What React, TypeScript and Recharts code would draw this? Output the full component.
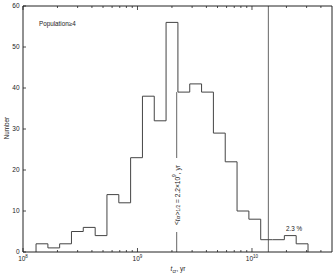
import { LineChart, Line, XAxis, YAxis, ReferenceLine } from "recharts";

// histogram of t_cr (log bins)
const binEdges = [
  1.3e8, 1.65e8, 2.09e8, 2.65e8, 3.36e8, 4.27e8, 5.41e8, 6.87e8, 8.71e8,
  1.105e9, 1.401e9, 1.777e9, 2.255e9, 2.86e9, 3.628e9, 4.603e9, 5.839e9,
  7.407e9, 9.396e9, 1.192e10, 1.512e10, 1.918e10, 2.433e10, 3.087e10,
];
const counts = [2, 1, 2, 5, 6, 4, 14, 12, 23, 38, 32, 56, 39, 41, 39, 29, 22, 10, 8, 3, 3, 4, 2];

const xTicks = [
  1e8, 2e8, 3e8, 4e8, 5e8, 6e8, 7e8, 8e8, 9e8,
  1e9, 2e9, 3e9, 4e9, 5e9, 6e9, 7e9, 8e9, 9e9,
  1e10, 2e10, 3e10, 4e10,
];
const yTicks = [0, 10, 20, 30, 40, 50, 60];

const medianValue = 2.2e9;
const medianTop = 39;
const cutValue = 1.39e10;

const points = [
  { x: binEdges[0], y: 0 },
  ...binEdges.map((e, i) => ({ x: e, y: i < counts.length ? counts[i] : 0 })),
];

const font = "'Liberation Sans', Arial, sans-serif";
const ink = "#222";

const isMajor = (v: number) => Math.abs(Math.log10(v) - Math.round(Math.log10(v))) < 1e-6;

function BottomTick({ x, y, payload }: any) {
  const v = payload.value;
  const major = isMajor(v);
  return (
    <g>
      <line x1={x} y1={y} x2={x} y2={y - (major ? 4 : 2)} stroke={ink} strokeWidth={0.8} />
      {major && (
        <text x={x} y={y + 8.5} textAnchor="middle" fontSize={6.5} fontFamily={font} fill={ink}>
          10
          <tspan dy={-2.6} fontSize={4.5}>
            {Math.round(Math.log10(v))}
          </tspan>
        </text>
      )}
    </g>
  );
}

function TopTick({ x, y, payload }: any) {
  const major = isMajor(payload.value);
  return <line x1={x} y1={y} x2={x} y2={y + (major ? 4 : 2)} stroke={ink} strokeWidth={0.8} />;
}

function LeftTick({ x, y, payload }: any) {
  return (
    <g>
      <line x1={x} y1={y} x2={x + 3} y2={y} stroke={ink} strokeWidth={0.8} />
      <text x={x - 3.5} y={y + 2.2} textAnchor="end" fontSize={6.5} fontFamily={font} fill={ink}>
        {payload.value}
      </text>
    </g>
  );
}

function RightTick({ x, y }: any) {
  return <line x1={x} y1={y} x2={x - 3} y2={y} stroke={ink} strokeWidth={0.8} />;
}

function MedianLabel({ viewBox }: any) {
  const cx = viewBox.x;
  const bottom = viewBox.y + viewBox.height;
  const cy = bottom - 57;
  return (
    <g>
      <rect x={cx - 5} y={cy - 37} width={10} height={74} fill="#fff" />
      <text
        x={cx}
        y={cy}
        transform={`rotate(-90 ${cx} ${cy})`}
        textAnchor="middle"
        dominantBaseline="central"
        fontSize={6.6}
        fontFamily={font}
        fill={ink}
      >
        {"<"}
        <tspan fontStyle="italic">t</tspan>
        <tspan dy={1.5} fontSize={4.8}>cr</tspan>
        <tspan dy={-1.5}>{">"}</tspan>
        <tspan dy={1.5} fontSize={4.8}>1/2</tspan>
        <tspan dy={-1.5}>{" = 2.2×10"}</tspan>
        <tspan dy={-2.4} fontSize={4.8}>9</tspan>
        <tspan dy={2.4}>{", yr"}</tspan>
      </text>
    </g>
  );
}

export default function App() {
  return (
    <div style={{ position: "absolute", left: 0, top: 0, background: "#fff" }}>
      <LineChart width={336} height={277} data={points} margin={{ top: 0, right: 0, bottom: 0, left: 0 }}>
        <XAxis
          xAxisId="bottom"
          dataKey="x"
          type="number"
          scale="log"
          domain={[1e8, 5e10]}
          allowDataOverflow
          ticks={xTicks}
          interval={0}
          tickLine={false}
          tickSize={0}
          tickMargin={0}
          tick={<BottomTick />}
          axisLine={{ stroke: ink }}
          height={25}
        />
        <XAxis
          xAxisId="top"
          orientation="top"
          dataKey="x"
          type="number"
          scale="log"
          domain={[1e8, 5e10]}
          allowDataOverflow
          ticks={xTicks}
          interval={0}
          tickLine={false}
          tickSize={0}
          tickMargin={0}
          tick={<TopTick />}
          axisLine={{ stroke: ink }}
          height={6}
        />
        <YAxis
          yAxisId="left"
          type="number"
          domain={[0, 60]}
          ticks={yTicks}
          interval={0}
          tickLine={false}
          tickSize={0}
          tickMargin={0}
          tick={<LeftTick />}
          axisLine={{ stroke: ink }}
          width={23}
        />
        <YAxis
          yAxisId="right"
          orientation="right"
          type="number"
          domain={[0, 60]}
          ticks={yTicks}
          interval={0}
          tickLine={false}
          tickSize={0}
          tickMargin={0}
          tick={<RightTick />}
          axisLine={{ stroke: ink }}
          width={4}
        />
        <ReferenceLine
          xAxisId="bottom"
          yAxisId="left"
          x={cutValue}
          stroke="#666"
          strokeWidth={1}
        />
        <ReferenceLine
          xAxisId="bottom"
          yAxisId="left"
          segment={[
            { x: medianValue, y: 0 },
            { x: medianValue, y: medianTop },
          ]}
          stroke="#666"
          strokeWidth={1}
          label={{ content: MedianLabel }}
        />
        <Line
          xAxisId="bottom"
          yAxisId="left"
          dataKey="y"
          type="stepAfter"
          stroke="#444"
          strokeWidth={1}
          dot={false}
          isAnimationActive={false}
        />
        <text x={39} y={26} fontSize={6.3} fontFamily={font} fill={ink}>
          Population≥4
        </text>
        <text x={294} y={231} textAnchor="middle" fontSize={6.3} fontFamily={font} fill={ink}>
          2.3 %
        </text>
        <text
          x={9}
          y={128}
          transform="rotate(-90 9 128)"
          textAnchor="middle"
          fontSize={6.3}
          fontFamily={font}
          fill={ink}
        >
          Number
        </text>
        <text x={178} y={271} textAnchor="middle" fontSize={6.5} fontFamily={font} fill={ink}>
          <tspan fontStyle="italic">t</tspan>
          <tspan dy={1.5} fontSize={4.8}>cr</tspan>
          <tspan dy={-1.5}>, yr</tspan>
        </text>
      </LineChart>
    </div>
  );
}
